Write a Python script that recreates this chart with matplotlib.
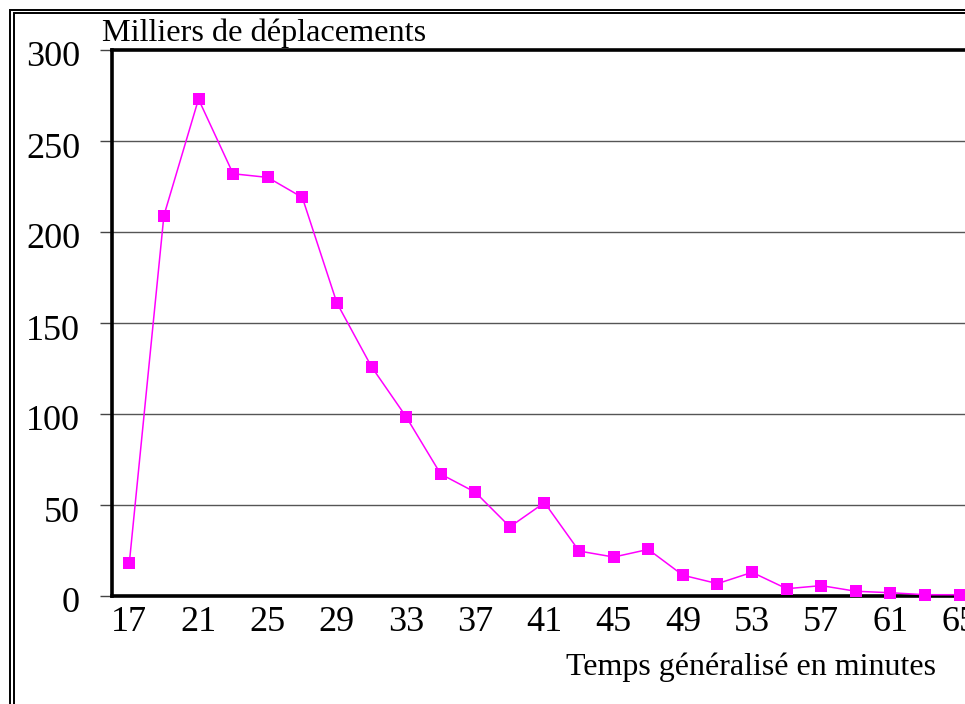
import matplotlib
matplotlib.use("Agg")
import matplotlib.pyplot as plt
from matplotlib.patches import Rectangle
from matplotlib.transforms import ScaledTranslation

# Temps généralisé (minutes) et milliers de déplacements
minutes = [17, 19, 21, 23, 25, 27, 29, 31, 33, 35, 37, 39, 41,
           43, 45, 47, 49, 51, 53, 55, 57, 59, 61, 63, 65]
deplacements = [18, 209, 273, 232, 230, 219, 161, 126, 98.5, 67, 57, 38, 51.3,
                24.7, 21.4, 25.6, 11.4, 6.8, 13.0, 4.0, 5.7, 2.6, 1.8, 0.7, 0.7]
x_ticks = list(range(17, 66, 4))
y_ticks = [0, 50, 100, 150, 200, 250, 300]

W, H = 965, 704
plt.rcParams["font.family"] = ["Liberation Serif", "DejaVu Serif"]

fig = plt.figure(figsize=(W / 100, H / 100), dpi=100)

# double cadre extérieur
for off in (10, 13.5):
    fig.patches.append(Rectangle((off / W, -0.2), 1.5, 1 - off / H + 0.2,
                                 transform=fig.transFigure, fill=False,
                                 edgecolor="black", linewidth=1.4))

left, right, top, bottom = 112, 977, 50, 596
ax = fig.add_axes([left / W, 1 - bottom / H, (right - left) / W, (bottom - top) / H])

ax.plot(minutes, deplacements, color="#FF00FF", linewidth=1.1,
        marker="s", markersize=8, markeredgewidth=0, clip_on=False, zorder=5)

ax.set_xlim(16, 66)
ax.set_ylim(0, 300)
ax.set_xticks(x_ticks)
ax.set_yticks(y_ticks)
ax.tick_params(axis="x", length=0, pad=7, labelsize=26)
ax.tick_params(axis="y", length=9, width=1, color="#444444", pad=14, labelsize=26)

# les étiquettes de l'axe vertical sont un peu plus bas que les lignes
shift = ScaledTranslation(0, -4 / 100, fig.dpi_scale_trans)
for lbl in ax.get_yticklabels():
    lbl.set_transform(lbl.get_transform() + shift)

for v in y_ticks[1:-1]:
    ax.axhline(v, color="#555555", linewidth=1.0, zorder=1)

for side in ("left", "bottom", "top"):
    ax.spines[side].set_linewidth(2.6)
ax.spines["right"].set_visible(False)

fig.text(102 / W, 1 - 41 / H, "Milliers de déplacements", fontsize=23.2,
         ha="left", va="baseline")
fig.text(751 / W, 1 - 675 / H, "Temps généralisé en minutes", fontsize=23,
         ha="center", va="baseline")

fig.savefig("out.png", dpi=100)
